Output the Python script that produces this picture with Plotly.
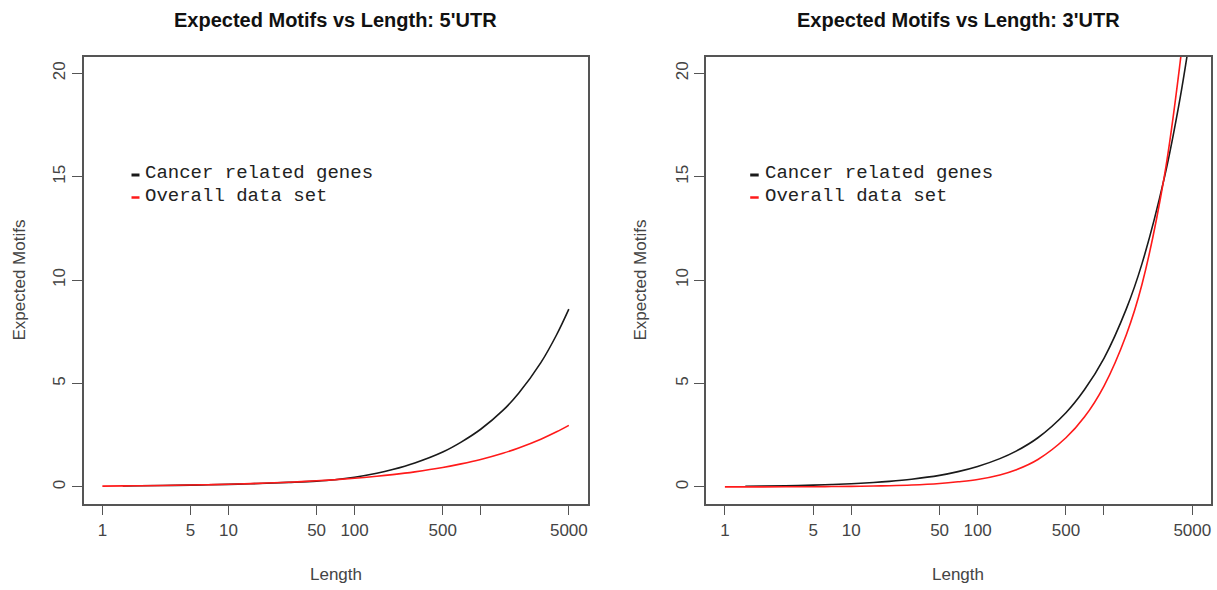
import plotly.graph_objects as go

# ---------------- data ----------------
panel_titles = ["Expected Motifs vs Length: 5'UTR", "Expected Motifs vs Length: 3'UTR"]
series_names = ["Cancer related genes", "Overall data set"]

x_tick_vals = [1, 5, 10, 50, 100, 500, 1000, 5000]
x_tick_text = ["1", "5", "10", "50", "100", "500", "", "5000"]
y_tick_vals = [0, 5, 10, 15, 20]

# 5'UTR panel
utr5_cancer_len = [1.45, 2, 3, 5, 7, 10, 15, 20, 30, 50, 70, 100, 150, 200, 300, 500, 700, 1000, 1500, 2000, 3000, 4000, 5000]
utr5_cancer_val = [0.047, 0.055, 0.068, 0.088, 0.105, 0.125, 0.155, 0.18, 0.22, 0.28, 0.35, 0.47, 0.66, 0.84, 1.16, 1.69, 2.17, 2.79, 3.70, 4.53, 6.01, 7.36, 8.60]
utr5_overall_len = [1, 1.5, 2, 3, 5, 7, 10, 15, 20, 30, 50, 70, 100, 150, 200, 300, 500, 700, 1000, 1500, 2000, 3000, 4000, 5000]
utr5_overall_val = [0.042, 0.052, 0.06, 0.073, 0.094, 0.11, 0.133, 0.163, 0.188, 0.23, 0.297, 0.35, 0.42, 0.515, 0.595, 0.73, 0.94, 1.115, 1.33, 1.63, 1.885, 2.31, 2.665, 2.98]

# 3'UTR panel
utr3_cancer_len = [1.45, 2, 3, 5, 7, 10, 15, 20, 30, 50, 70, 100, 150, 200, 300, 500, 700, 1000, 1500, 2000, 3000, 4000, 5000]
utr3_cancer_val = [0.032, 0.041, 0.057, 0.09, 0.118, 0.156, 0.215, 0.27, 0.375, 0.56, 0.74, 0.99, 1.37, 1.72, 2.38, 3.59, 4.70, 6.22, 8.60, 10.8, 14.93, 18.79, 22.5]
utr3_overall_len = [1, 1.5, 2, 3, 5, 7, 10, 15, 20, 30, 50, 70, 100, 150, 200, 300, 500, 700, 1000, 1500, 2000, 3000, 4000, 5000]
utr3_overall_val = [0.002, 0.004, 0.005, 0.008, 0.013, 0.019, 0.028, 0.044, 0.06, 0.095, 0.17, 0.25, 0.36, 0.58, 0.82, 1.33, 2.38, 3.38, 4.88, 7.35, 9.8, 15.0, 20.5, 26.0]

series_colors = ["#1a1a1a", "#ff1a1a"]

# ---------------- figure ----------------
W, H = 1217, 590
def px(x):
    return x / W
def py(y):
    return 1 - y / H

fig = go.Figure()

panels = [
    (utr5_cancer_len, utr5_cancer_val, utr5_overall_len, utr5_overall_val, "x", "y"),
    (utr3_cancer_len, utr3_cancer_val, utr3_overall_len, utr3_overall_val, "x2", "y2"),
]
for cl, cv, ol, ov, xa, ya in panels:
    fig.add_trace(go.Scatter(x=cl, y=cv, mode="lines", line=dict(color=series_colors[0], width=1.6, shape="spline"),
                             xaxis=xa, yaxis=ya, showlegend=False, name=series_names[0]))
    fig.add_trace(go.Scatter(x=ol, y=ov, mode="lines", line=dict(color=series_colors[1], width=1.6, shape="spline"),
                             xaxis=xa, yaxis=ya, showlegend=False, name=series_names[1]))

ydom = [py(503.5), py(56.8)]
xdoms = [[px(83.7), px(587.5)], [px(706.2), px(1211.0)]]

axis_common_x = dict(type="log", range=[-0.148, 3.847], tickvals=x_tick_vals, ticktext=x_tick_text,
                     ticks="outside", ticklen=10, tickwidth=1.3, tickcolor="#555",
                     showline=True, linecolor="#555", linewidth=1.5, mirror=True,
                     showgrid=False, zeroline=False,
                     tickfont=dict(family="Liberation Sans, Arial, sans-serif", size=17, color="#444"))
axis_common_y = dict(range=[-0.8, 20.8], tickvals=y_tick_vals, tickangle=-90,
                     ticks="outside", ticklen=10, tickwidth=1.3, tickcolor="#555",
                     showline=True, linecolor="#555", linewidth=1.5, mirror=True,
                     showgrid=False, zeroline=False,
                     tickfont=dict(family="Liberation Sans, Arial, sans-serif", size=17, color="#444"))

fig.update_layout(
    width=W, height=H,
    margin=dict(l=0, r=0, t=0, b=0, pad=0),
    paper_bgcolor="white", plot_bgcolor="white",
    xaxis=dict(domain=xdoms[0], anchor="y", **axis_common_x),
    yaxis=dict(domain=ydom, anchor="x", **axis_common_y),
    xaxis2=dict(domain=xdoms[1], anchor="y2", **axis_common_x),
    yaxis2=dict(domain=ydom, anchor="x2", **axis_common_y),
)

ann = []
title_x = [335.6, 958.0]
ylab_x = [18.5, 639.5]
leg_dash_x = [(131.5, 139.5), (750.2, 758.7)]
leg_text_x = [143.2, 762.5]
leg_rows_y = [173.0, 195.5]
for i in range(2):
    ann.append(dict(text="<b>" + panel_titles[i] + "</b>", x=px(title_x[i]), y=py(20), xref="paper", yref="paper",
                    showarrow=False, xanchor="center", yanchor="middle",
                    font=dict(family="Liberation Sans, Arial, sans-serif", size=20, color="#111")))
    ann.append(dict(text="Length", x=px(title_x[i]), y=py(574), xref="paper", yref="paper",
                    showarrow=False, xanchor="center", yanchor="middle",
                    font=dict(family="Liberation Sans, Arial, sans-serif", size=17, color="#444")))
    ann.append(dict(text="Expected Motifs", x=px(ylab_x[i]), y=py(280), xref="paper", yref="paper",
                    showarrow=False, xanchor="center", yanchor="middle", textangle=-90,
                    font=dict(family="Liberation Sans, Arial, sans-serif", size=17, color="#444")))
    for j in range(2):
        ann.append(dict(text=series_names[j], x=px(leg_text_x[i]), y=py(leg_rows_y[j]), xref="paper", yref="paper",
                        showarrow=False, xanchor="left", yanchor="middle",
                        font=dict(family="Liberation Mono, Courier New, monospace", size=19, color="#222")))
        fig.add_shape(type="line", xref="paper", yref="paper",
                      x0=px(leg_dash_x[i][0]), x1=px(leg_dash_x[i][1]),
                      y0=py(leg_rows_y[j] + 2), y1=py(leg_rows_y[j] + 2),
                      line=dict(color=series_colors[j], width=3 if j == 0 else 2.5))

fig.update_layout(annotations=ann)
fig.write_html("out.html", config={"displayModeBar": False},
               post_script="document.body.style.margin='0px';document.body.style.overflow='hidden';")
